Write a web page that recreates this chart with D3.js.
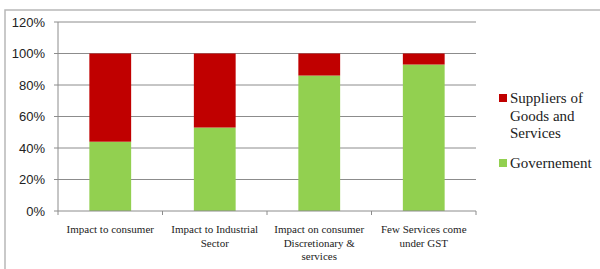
<!DOCTYPE html>
<html>
<head>
<meta charset="utf-8">
<script src="https://cdn.jsdelivr.net/npm/d3@7"></script>
<style>
  body { margin: 0; background: #fff; }
  .serif { font-family: "Liberation Serif", "DejaVu Serif", "Times New Roman", serif; }
  .sans { font-family: "Liberation Sans", Arial, sans-serif; }
</style>
</head>
<body>
<div id="chart"></div>
<script>
var w = 600, h = 269;

var categories = [
  ["Impact to consumer"],
  ["Impact to Industrial", "Sector"],
  ["Impact on consumer", "Discretionary &", "services"],
  ["Few Services come", "under GST"]
];
var governement = [44, 53, 86, 93];
var suppliers = [56, 47, 14, 7];
var yTicks = [0, 20, 40, 60, 80, 100, 120];
var seriesNames = ["Suppliers of Goods and Services", "Governement"];
var colors = {"Governement": "#92D050", "Suppliers of Goods and Services": "#C00000"};

var margin = {left: 58, top: 22, right: 124, bottom: 58};

var svg = d3.select("#chart").append("svg")
  .attr("width", w)
  .attr("height", h);

// outer frame
svg.append("rect")
  .attr("x", 5).attr("y", 10)
  .attr("width", 600).attr("height", 270)
  .attr("fill", "none")
  .attr("stroke", "#b8b8b8")
  .attr("stroke-width", 1.5);

var x = d3.scaleBand()
  .domain(d3.range(categories.length))
  .range([margin.left, w - margin.right])
  .paddingInner(0.6)
  .paddingOuter(0.3);

var xOuter = d3.scaleBand()
  .domain(d3.range(categories.length))
  .range([margin.left, w - margin.right]);

var y = d3.scaleLinear()
  .domain([0, 120])
  .range([h - margin.bottom, margin.top]);

// gridlines
svg.selectAll(".grid")
  .data(yTicks.slice(1))
  .enter().append("line")
  .attr("x1", margin.left).attr("x2", w - margin.right)
  .attr("y1", function(d){ return y(d); })
  .attr("y2", function(d){ return y(d); })
  .attr("stroke", "#8c8c8c")
  .attr("stroke-width", 1);

// y axis line
svg.append("line")
  .attr("x1", margin.left).attr("x2", margin.left)
  .attr("y1", y(120)).attr("y2", y(0))
  .attr("stroke", "#8c8c8c");

svg.selectAll(".ylab")
  .data(yTicks)
  .enter().append("text")
  .attr("class", "sans")
  .attr("x", margin.left - 13)
  .attr("y", function(d){ return y(d) + 4.5; })
  .attr("text-anchor", "end")
  .style("font-size", "13px")
  .attr("fill", "#222")
  .text(function(d){ return d + "%"; });

svg.selectAll(".ytick")
  .data(yTicks)
  .enter().append("line")
  .attr("x1", margin.left - 4).attr("x2", margin.left)
  .attr("y1", function(d){ return y(d); })
  .attr("y2", function(d){ return y(d); })
  .attr("stroke", "#8c8c8c");

// bars
var stackData = categories.map(function(c, i){
  return {i: i, "Governement": governement[i], "Suppliers of Goods and Services": suppliers[i]};
});
var stack = d3.stack().keys(["Governement", "Suppliers of Goods and Services"]);
var layers = stack(stackData);

svg.selectAll(".layer")
  .data(layers)
  .enter().append("g")
  .attr("fill", function(d){ return colors[d.key]; })
  .selectAll("rect")
  .data(function(d){ return d; })
  .enter().append("rect")
  .attr("x", function(d){ return x(d.data.i); })
  .attr("width", x.bandwidth())
  .attr("y", function(d){ return y(d[1]); })
  .attr("height", function(d){ return y(d[0]) - y(d[1]); });

// x axis
svg.append("line")
  .attr("x1", margin.left).attr("x2", w - margin.right)
  .attr("y1", y(0)).attr("y2", y(0))
  .attr("stroke", "#8c8c8c");

var bounds = d3.range(categories.length + 1).map(function(i){
  return i < categories.length ? xOuter(i) : xOuter(i - 1) + xOuter.bandwidth();
});
svg.selectAll(".xtick")
  .data(bounds)
  .enter().append("line")
  .attr("x1", function(d){ return d; })
  .attr("x2", function(d){ return d; })
  .attr("y1", y(0)).attr("y2", y(0) + 4)
  .attr("stroke", "#8c8c8c");

svg.selectAll(".xlab")
  .data(categories)
  .enter().append("text")
  .attr("class", "serif")
  .attr("text-anchor", "middle")
  .style("font-size", "11px")
  .attr("fill", "#222")
  .each(function(lines, i){
    var t = d3.select(this);
    lines.forEach(function(s, k){
      t.append("tspan")
        .attr("x", xOuter(i) + xOuter.bandwidth() / 2)
        .attr("y", y(0) + 22 + k * 13.5)
        .text(s);
    });
  });

// legend
var legend = [
  {name: seriesNames[0], lines: ["Suppliers of", "Goods and", "Services"], y: 98},
  {name: seriesNames[1], lines: ["Governement"], y: 163}
];
legend.forEach(function(l){
  svg.append("rect")
    .attr("x", 499).attr("y", l.y - 4)
    .attr("width", 8).attr("height", 8)
    .attr("fill", colors[l.name]);
  var t = svg.append("text")
    .attr("class", "serif")
    .style("font-size", "15px")
    .attr("fill", "#222");
  l.lines.forEach(function(s, k){
    t.append("tspan")
      .attr("x", 510)
      .attr("y", l.y + 5 + k * 17.5)
      .text(s);
  });
});
</script>
</body>
</html>
